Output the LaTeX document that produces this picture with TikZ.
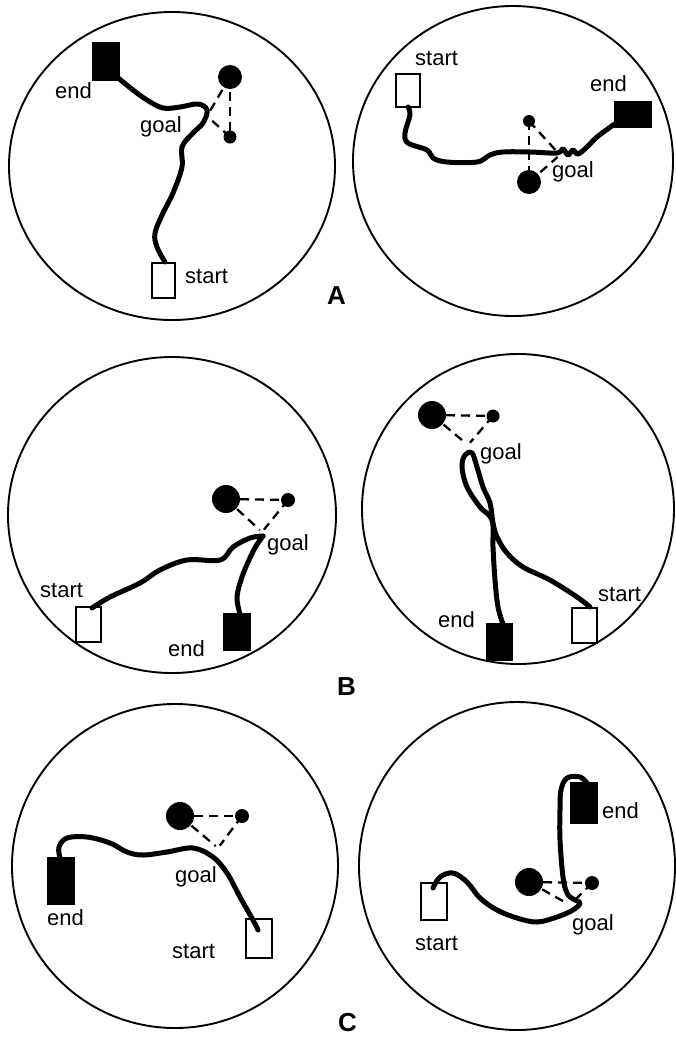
\documentclass[tikz,border=0pt]{standalone}
\usepackage{fontspec}
\setmainfont{Liberation Sans}
\begin{document}
\begin{tikzpicture}[x=1pt,y=-1pt,
  rim/.style={line width=1.9pt},
  track/.style={line width=5pt, line cap=round, line join=round},
  openbox/.style={draw, line width=1.7pt},
  fullbox/.style={draw, line width=1.7pt, fill=black},
  lbl/.style={font=\fontsize{22}{25}\selectfont, inner sep=0pt, anchor=base west},
  panel/.style={font=\bfseries\fontsize{26}{28}\selectfont, inner sep=0pt, anchor=base west},
  link/.style={dash pattern=on 9pt off 6pt, line width=2.3pt},
  dot/.style={fill=black},
]
\useasboundingbox (0,0) rectangle (676,1037);

% ---------------- Panel A left ----------------
\draw[rim] (172,166) ellipse [x radius=163, y radius=154];
\coordinate (a1big) at (230,77);
\coordinate (a1small) at (230,137);
\coordinate (a1g) at (207,116);
\draw[link] (a1big) -- (a1small);
\draw[link, shorten >=3pt] (a1big) -- (a1g);
\draw[link, shorten >=3pt] (a1small) -- (a1g);
\fill[dot] (a1big) circle (12);
\fill[dot] (a1small) circle (6.5);
\path[openbox] (152,263) rectangle (175,298);
\draw[track] plot[smooth, tension=0.6] coordinates {(165,262) (157,247) (155,233) (163,213) (173,193) (182,167) (182,147) (193,133) (203,123) (207,110) (198,104) (180,107) (163,108) (147,100) (133,90) (117,77)};
\path[fullbox] (93,43) rectangle (119,80);
\node[lbl] (a1end) at (55,98) {end};
\node[lbl] (a1goal) at (140,132) {goal};
\node[lbl] (a1start) at (185,283) {start};

% ---------------- Panel A right ----------------
\draw[rim] (513,161) ellipse [x radius=160, y radius=155];
\coordinate (a2small) at (529,121);
\coordinate (a2big) at (529,182);
\coordinate (a2g) at (560,155);
\draw[link] (a2small) -- (a2big);
\draw[link, shorten >=3pt] (a2small) -- (a2g);
\draw[link, shorten >=3pt] (a2big) -- (a2g);
\fill[dot] (a2big) circle (12);
\fill[dot] (a2small) circle (6);
\path[openbox] (396,74) rectangle (420,107);
\draw[track] plot[smooth, tension=0.6] coordinates {(408,107) (410,115) (405,133) (408,143) (427,150) (433,158) (447,162) (477,162) (490,155) (503,152) (530,152) (557,153) (563,149) (568,155) (573,150) (578,154) (587,147) (597,137) (616,123)};
\path[fullbox] (615,102) rectangle (651,127);
\node[lbl] (a2start) at (415,65) {start};
\node[lbl] (a2end) at (590,91) {end};
\node[lbl] (a2goal) at (552,177) {goal};
\node[panel] (labA) at (327,304) {A};

% ---------------- Panel B left ----------------
\draw[rim] (172,515) ellipse [x radius=164, y radius=158];
\coordinate (b1big) at (226,499);
\coordinate (b1small) at (288,500);
\coordinate (b1g) at (262,532);
\draw[link, shorten <=14pt] (b1big) -- (b1small);
\draw[link, shorten >=3pt] (b1big) -- (b1g);
\draw[link, shorten >=3pt] (b1small) -- (b1g);
\fill[dot] (b1big) circle (14);
\fill[dot] (b1small) circle (7);
\path[openbox] (76,607) rectangle (101,642);
\draw[track] plot[smooth, tension=0.6] coordinates {(92,608) (110,597) (140,583) (160,570) (187,560) (220,560) (233,547) (250,538) (263,536)};
\draw[track] plot[smooth, tension=0.6] coordinates {(263,536) (256,546) (249,560) (242,577) (237,597) (240,614)};
\path[fullbox] (224,614) rectangle (250,650);
\node[lbl] (b1start) at (40,597) {start};
\node[lbl] (b1end) at (168,656) {end};
\node[lbl] (b1goal) at (267,550) {goal};

% ---------------- Panel B right ----------------
\draw[rim] (518,509) ellipse [x radius=156, y radius=155];
\coordinate (b2big) at (432,415);
\coordinate (b2small) at (493,416);
\coordinate (b2g) at (468,445);
\draw[link, shorten <=14pt] (b2big) -- (b2small);
\draw[link, shorten >=3pt] (b2big) -- (b2g);
\draw[link, shorten >=3pt] (b2small) -- (b2g);
\fill[dot] (b2big) circle (14);
\fill[dot] (b2small) circle (6.5);
\path[openbox] (572,608) rectangle (597,643);
\draw[track] plot[smooth, tension=0.6] coordinates {(590,607) (577,597) (550,580) (523,567) (507,553) (497,537) (493,523) (490,503) (483,487) (477,467) (472,453) (465,455) (462,467) (467,487) (480,507) (492,520) (493,547) (495,580) (498,607) (503,624)};
\path[fullbox] (487,624) rectangle (512,660);
\node[lbl] (b2goal) at (480,459) {goal};
\node[lbl] (b2end) at (438,627) {end};
\node[lbl] (b2start) at (598,601) {start};
\node[panel] (labB) at (337,695) {B};

% ---------------- Panel C left ----------------
\draw[rim] (175,866) ellipse [x radius=163, y radius=162];
\coordinate (c1big) at (180,816);
\coordinate (c1small) at (242,816);
\coordinate (c1g) at (218,848);
\draw[link, shorten <=14pt] (c1big) -- (c1small);
\draw[link, shorten >=3pt] (c1big) -- (c1g);
\draw[link, shorten >=3pt] (c1small) -- (c1g);
\fill[dot] (c1big) circle (14);
\fill[dot] (c1small) circle (7);
\path[openbox] (246,919) rectangle (272,958);
\draw[track] plot[smooth, tension=0.6] coordinates {(60,858) (59,847) (67,838) (87,837) (110,843) (127,852) (143,855) (167,852) (193,848) (213,857) (227,873) (240,897) (253,920) (258,930)};
\path[fullbox] (48,858) rectangle (74,904);
\node[lbl] (c1goal) at (175,882) {goal};
\node[lbl] (c1end) at (47,925) {end};
\node[lbl] (c1start) at (172,958) {start};

% ---------------- Panel C right ----------------
\draw[rim] (517,866) ellipse [x radius=158, y radius=164];
\coordinate (c2big) at (529,882);
\coordinate (c2small) at (592,883);
\coordinate (c2g) at (570,905);
\draw[link, shorten <=14pt] (c2big) -- (c2small);
\draw[link, shorten >=3pt] (c2big) -- (c2g);
\draw[link, shorten >=3pt] (c2small) -- (c2g);
\fill[dot] (c2big) circle (14);
\fill[dot] (c2small) circle (7);
\path[openbox] (421,883) rectangle (447,920);
\draw[track] plot[smooth, tension=0.6] coordinates {(433,888) (440,877) (453,873) (467,882) (480,898) (497,910) (517,918) (537,922) (557,917) (573,910) (580,903) (573,899) (567,893) (563,877) (560,840) (560,810) (561,790) (567,778) (580,777) (587,783)};
\path[fullbox] (571,783) rectangle (597,823);
\node[lbl] (c2end) at (602,818) {end};
\node[lbl] (c2goal) at (572,930) {goal};
\node[lbl] (c2start) at (415,950) {start};
\node[panel] (labC) at (338,1031) {C};
\end{tikzpicture}
\end{document}
